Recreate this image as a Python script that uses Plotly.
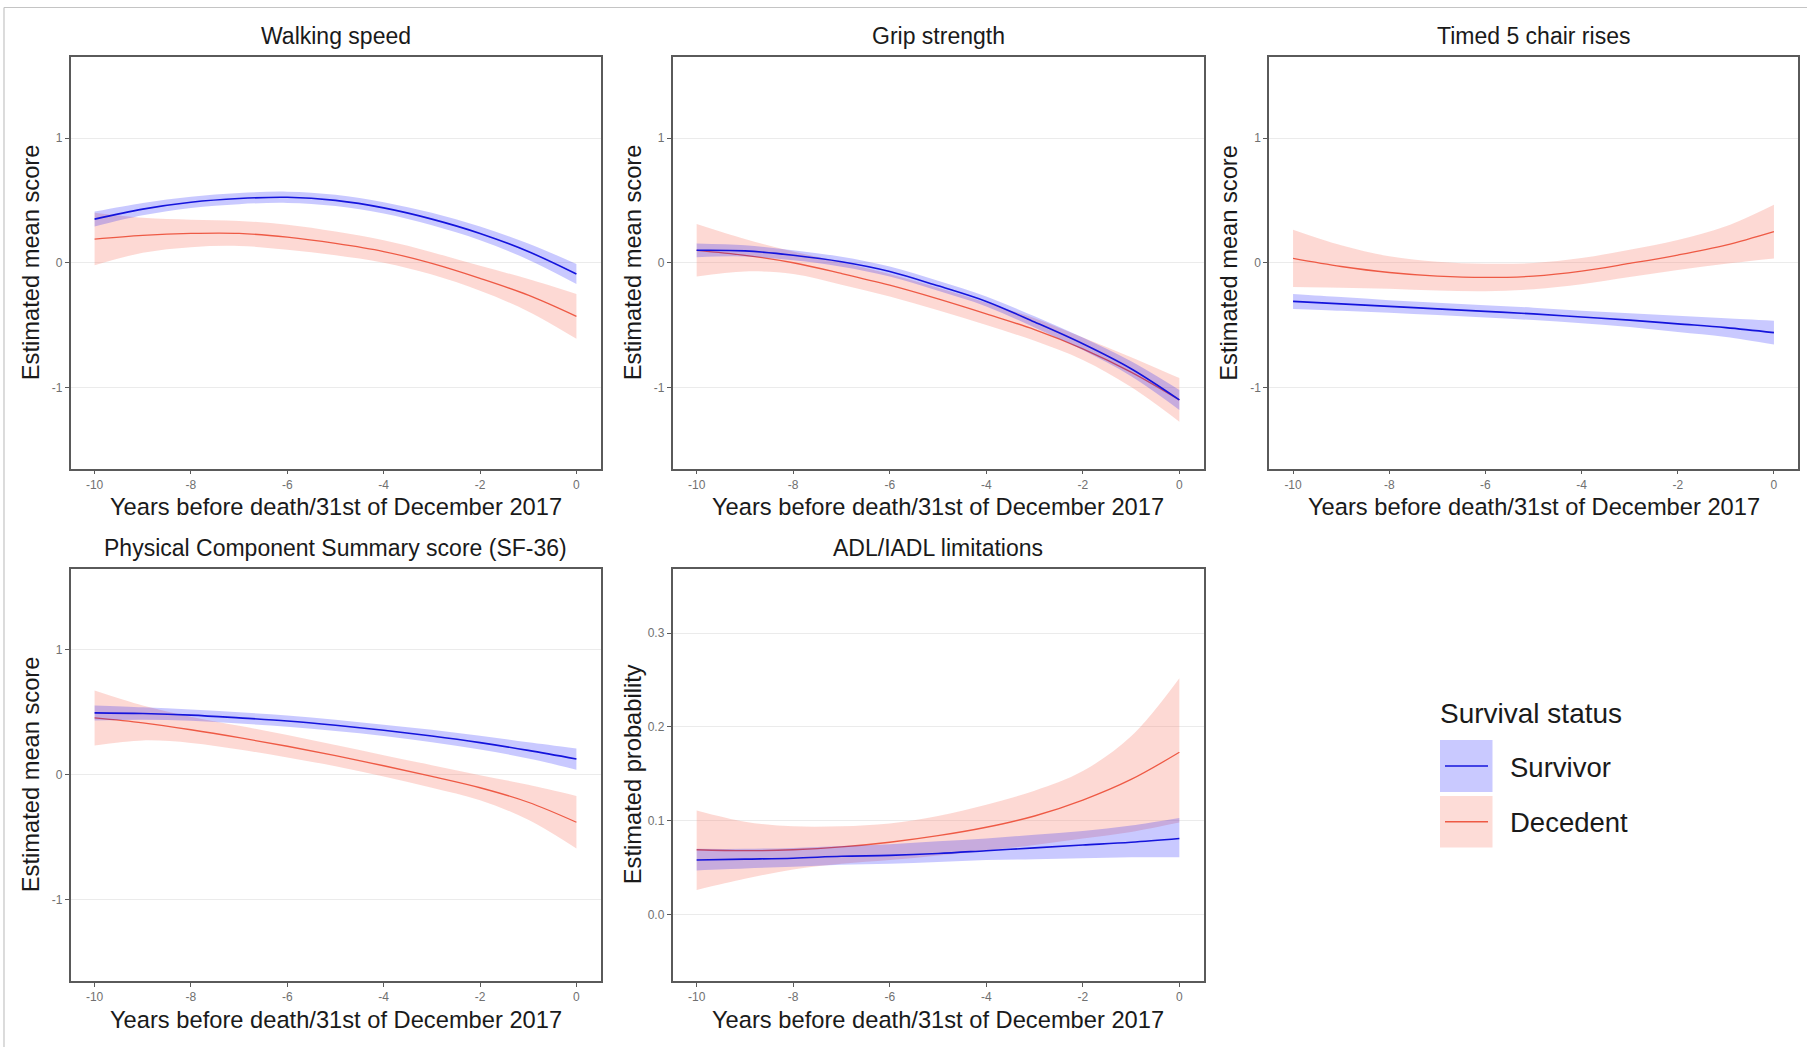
import plotly.graph_objects as go

W, H = 1807, 1047

# ---------------- data ----------------
years = [-10, -9, -8, -7, -6, -5, -4, -3, -2, -1, 0]
x_ticks = [-10, -8, -6, -4, -2, 0]
panel_titles = ["Walking speed", "Grip strength", "Timed 5 chair rises",
                "Physical Component Summary score (SF-36)", "ADL/IADL limitations"]
y_titles = ["Estimated mean score", "Estimated mean score", "Estimated mean score",
            "Estimated mean score", "Estimated probability"]
x_title = "Years before death/31st of December 2017"
groups = ["Survivor", "Decedent"]

# Walking speed
walk_surv = [0.35, 0.43, 0.485, 0.515, 0.525, 0.50, 0.44, 0.35, 0.235, 0.09, -0.09]
walk_surv_lo = [0.29, 0.38, 0.44, 0.47, 0.48, 0.455, 0.395, 0.30, 0.18, 0.025, -0.17]
walk_surv_hi = [0.41, 0.48, 0.53, 0.56, 0.57, 0.545, 0.485, 0.40, 0.29, 0.155, -0.01]
walk_dec = [0.19, 0.22, 0.235, 0.235, 0.205, 0.155, 0.09, -0.005, -0.125, -0.26, -0.43]
walk_dec_lo = [-0.02, 0.08, 0.125, 0.135, 0.105, 0.06, 0.0, -0.095, -0.225, -0.39, -0.61]
walk_dec_hi = [0.40, 0.36, 0.345, 0.335, 0.305, 0.25, 0.18, 0.085, -0.025, -0.13, -0.25]

# Grip strength
grip_surv = [0.10, 0.095, 0.06, 0.008, -0.07, -0.185, -0.31, -0.475, -0.65, -0.85, -1.10]
grip_surv_lo = [0.045, 0.05, 0.02, -0.032, -0.11, -0.225, -0.35, -0.52, -0.70, -0.91, -1.18]
grip_surv_hi = [0.155, 0.14, 0.10, 0.048, -0.03, -0.145, -0.27, -0.43, -0.60, -0.79, -1.02]
grip_dec = [0.10, 0.06, 0.0, -0.086, -0.18, -0.29, -0.41, -0.536, -0.69, -0.877, -1.10]
grip_dec_lo = [-0.11, -0.07, -0.09, -0.176, -0.27, -0.38, -0.50, -0.626, -0.78, -0.997, -1.275]
grip_dec_hi = [0.31, 0.19, 0.09, 0.004, -0.09, -0.20, -0.32, -0.446, -0.60, -0.757, -0.925]

# Timed 5 chair rises
chair_surv = [-0.31, -0.33, -0.35, -0.37, -0.39, -0.41, -0.435, -0.46, -0.49, -0.52, -0.56]
chair_surv_lo = [-0.37, -0.385, -0.40, -0.42, -0.44, -0.46, -0.485, -0.515, -0.555, -0.595, -0.655]
chair_surv_hi = [-0.25, -0.275, -0.30, -0.32, -0.34, -0.36, -0.385, -0.405, -0.425, -0.445, -0.465]
chair_dec = [0.035, -0.03, -0.078, -0.107, -0.118, -0.107, -0.067, -0.005, 0.062, 0.142, 0.25]
chair_dec_lo = [-0.195, -0.20, -0.208, -0.222, -0.228, -0.212, -0.172, -0.115, -0.058, -0.008, 0.035]
chair_dec_hi = [0.265, 0.14, 0.052, 0.008, -0.008, -0.002, 0.038, 0.105, 0.182, 0.292, 0.465]

# Physical Component Summary score (SF-36)
pcs_surv = [0.495, 0.49, 0.477, 0.455, 0.43, 0.396, 0.356, 0.31, 0.257, 0.195, 0.126]
pcs_surv_lo = [0.435, 0.44, 0.432, 0.41, 0.385, 0.351, 0.311, 0.26, 0.202, 0.13, 0.041]
pcs_surv_hi = [0.555, 0.54, 0.522, 0.50, 0.475, 0.441, 0.401, 0.36, 0.312, 0.26, 0.211]
pcs_dec = [0.455, 0.415, 0.36, 0.297, 0.228, 0.153, 0.072, -0.013, -0.104, -0.22, -0.38]
pcs_dec_lo = [0.235, 0.275, 0.255, 0.202, 0.138, 0.068, -0.013, -0.103, -0.204, -0.36, -0.59]
pcs_dec_hi = [0.675, 0.555, 0.465, 0.392, 0.318, 0.238, 0.157, 0.077, -0.004, -0.08, -0.17]

# ADL/IADL limitations (probability)
adl_surv = [0.058, 0.059, 0.060, 0.062, 0.063, 0.065, 0.068, 0.071, 0.074, 0.077, 0.081]
adl_surv_lo = [0.047, 0.049, 0.051, 0.053, 0.054, 0.056, 0.058, 0.059, 0.060, 0.061, 0.061]
adl_surv_hi = [0.070, 0.070, 0.071, 0.073, 0.075, 0.078, 0.081, 0.085, 0.089, 0.095, 0.103]
adl_dec = [0.069, 0.068, 0.069, 0.072, 0.077, 0.084, 0.093, 0.105, 0.122, 0.144, 0.173]
adl_dec_lo = [0.026, 0.038, 0.048, 0.054, 0.058, 0.063, 0.068, 0.074, 0.081, 0.088, 0.098]
adl_dec_hi = [0.111, 0.099, 0.094, 0.094, 0.097, 0.105, 0.117, 0.132, 0.153, 0.190, 0.252]

score_ticks = [-1, 0, 1]
score_tick_text = ["-1", "0", "1"]
prob_ticks = [0.0, 0.1, 0.2, 0.3]
prob_tick_text = ["0.0", "0.1", "0.2", "0.3"]

panels = [
    (walk_surv, walk_surv_lo, walk_surv_hi, walk_dec, walk_dec_lo, walk_dec_hi),
    (grip_surv, grip_surv_lo, grip_surv_hi, grip_dec, grip_dec_lo, grip_dec_hi),
    (chair_surv, chair_surv_lo, chair_surv_hi, chair_dec, chair_dec_lo, chair_dec_hi),
    (pcs_surv, pcs_surv_lo, pcs_surv_hi, pcs_dec, pcs_dec_lo, pcs_dec_hi),
    (adl_surv, adl_surv_lo, adl_surv_hi, adl_dec, adl_dec_lo, adl_dec_hi),
]

# ---------------- style / layout ----------------
FONT = "Liberation Sans, Arial, sans-serif"
SURV_LINE = "#1414DC"
DEC_LINE = "#EE5A45"
SURV_FILL = "rgba(0,0,255,0.21)"
DEC_FILL = "rgba(250,128,114,0.30)"
SURV_KEY = "#C9C9FF"
DEC_KEY = "#FDDCD7"

def px(x):
    return x / W

def py(y):
    return 1 - y / H

# panel boxes in pixels: (left, right, top, bottom)
boxes = [
    (70.5, 600.5, 57, 468.5),
    (672.5, 1203.5, 57, 468.5),
    (1269, 1798, 57, 468.5),
    (70.5, 600.5, 568.5, 981),
    (672.5, 1203.5, 568.5, 981),
]
y_ranges = [[-1.65, 1.65]] * 4 + [[-0.071, 0.369]]

fig = go.Figure()
layout = dict(
    width=W, height=H,
    margin=dict(l=0, r=0, t=0, b=0),
    paper_bgcolor="white", plot_bgcolor="white",
    showlegend=False,
    font=dict(family=FONT, color="#1a1a1a"),
)
annotations = []
shapes = []

for i, (box, data) in enumerate(zip(boxes, panels)):
    n = i + 1
    xa = "x" if n == 1 else f"x{n}"
    ya = "y" if n == 1 else f"y{n}"
    s, s_lo, s_hi, d, d_lo, d_hi = data
    common = dict(xaxis=xa, yaxis=ya, x=years, hoverinfo="skip")
    # decedent band + line
    fig.add_trace(go.Scatter(y=d_lo, mode="lines", line=dict(width=0, shape="spline"), **common))
    fig.add_trace(go.Scatter(y=d_hi, mode="lines", line=dict(width=0, shape="spline"),
                             fill="tonexty", fillcolor=DEC_FILL, **common))
    fig.add_trace(go.Scatter(y=d, mode="lines", line=dict(color=DEC_LINE, width=1.3, shape="spline"),
                             name=groups[1], **common))
    # survivor band + line
    fig.add_trace(go.Scatter(y=s_lo, mode="lines", line=dict(width=0, shape="spline"), **common))
    fig.add_trace(go.Scatter(y=s_hi, mode="lines", line=dict(width=0, shape="spline"),
                             fill="tonexty", fillcolor=SURV_FILL, **common))
    fig.add_trace(go.Scatter(y=s, mode="lines", line=dict(color=SURV_LINE, width=1.6, shape="spline"),
                             name=groups[0], **common))

    l, r, t, b = box
    xkey = "xaxis" if n == 1 else f"xaxis{n}"
    ykey = "yaxis" if n == 1 else f"yaxis{n}"
    layout[xkey] = dict(
        domain=[px(l), px(r)], anchor=ya, range=[-10.5, 0.5],
        tickmode="array", tickvals=x_ticks, ticktext=[str(v) for v in x_ticks],
        showgrid=False, zeroline=False,
        showline=True, mirror=True, linecolor="#5a5a5a", linewidth=1.5,
        ticks="outside", ticklen=4, tickcolor="#5a5a5a", tickwidth=1,
        tickfont=dict(size=12, color="#707070", family=FONT),
    )
    yt = prob_ticks if n == 5 else score_ticks
    ytt = prob_tick_text if n == 5 else score_tick_text
    layout[ykey] = dict(
        domain=[py(b), py(t)], anchor=xa, range=y_ranges[i],
        tickmode="array", tickvals=yt, ticktext=ytt,
        showgrid=True, gridcolor="#EBEBEB", gridwidth=1, zeroline=False,
        showline=True, mirror=True, linecolor="#5a5a5a", linewidth=1.5,
        ticks="outside", ticklen=4, tickcolor="#5a5a5a", tickwidth=1,
        tickfont=dict(size=12, color="#707070", family=FONT),
    )
    cx = (l + r) / 2
    cy = (t + b) / 2
    # panel title
    annotations.append(dict(text=panel_titles[i], x=px(cx), y=py(t - 21), xref="paper", yref="paper",
                            showarrow=False, xanchor="center", yanchor="middle",
                            font=dict(size=23, color="#1a1a1a", family=FONT)))
    # x title
    annotations.append(dict(text=x_title, x=px(cx), y=py(b + 38.5), xref="paper", yref="paper",
                            showarrow=False, xanchor="center", yanchor="middle",
                            font=dict(size=23.7, color="#1a1a1a", family=FONT)))
    # y title
    annotations.append(dict(text=y_titles[i], x=px(l - 40), y=py(cy), xref="paper", yref="paper",
                            showarrow=False, xanchor="center", yanchor="middle", textangle=-90,
                            font=dict(size=23.7, color="#1a1a1a", family=FONT)))

# ---------------- manual legend ----------------
annotations.append(dict(text="Survival status", x=px(1438), y=py(713), xref="paper", yref="paper",
                        showarrow=False, xanchor="left", yanchor="middle",
                        font=dict(size=28, color="#1a1a1a", family=FONT)))
key_rows = [(740, 792, SURV_KEY, SURV_LINE, groups[0]), (796, 847.5, DEC_KEY, DEC_LINE, groups[1])]
for top, bot, fillc, linec, label in key_rows:
    shapes.append(dict(type="rect", xref="paper", yref="paper",
                       x0=px(1440), x1=px(1492.5), y0=py(bot), y1=py(top),
                       fillcolor=fillc, line=dict(width=0), layer="above"))
    mid = (top + bot) / 2
    shapes.append(dict(type="line", xref="paper", yref="paper",
                       x0=px(1445), x1=px(1488), y0=py(mid), y1=py(mid),
                       line=dict(color=linec, width=1.5), layer="above"))
    annotations.append(dict(text=label, x=px(1508), y=py(mid + 1), xref="paper", yref="paper",
                            showarrow=False, xanchor="left", yanchor="middle",
                            font=dict(size=27.5, color="#1a1a1a", family=FONT)))

# outer frame lines of the screenshot
shapes.append(dict(type="line", xref="paper", yref="paper", x0=px(4), x1=1, y0=py(7.5), y1=py(7.5),
                   line=dict(color="#C4C4C4", width=1.2)))
shapes.append(dict(type="line", xref="paper", yref="paper", x0=px(4), x1=px(4), y0=0, y1=py(7.5),
                   line=dict(color="#C4C4C4", width=1.2)))

layout["annotations"] = annotations
layout["shapes"] = shapes
fig.update_layout(**layout)
fig.write_html("out.html", config={"displayModeBar": False},
               post_script="document.body.style.margin='0px';document.body.style.overflow='hidden';")
